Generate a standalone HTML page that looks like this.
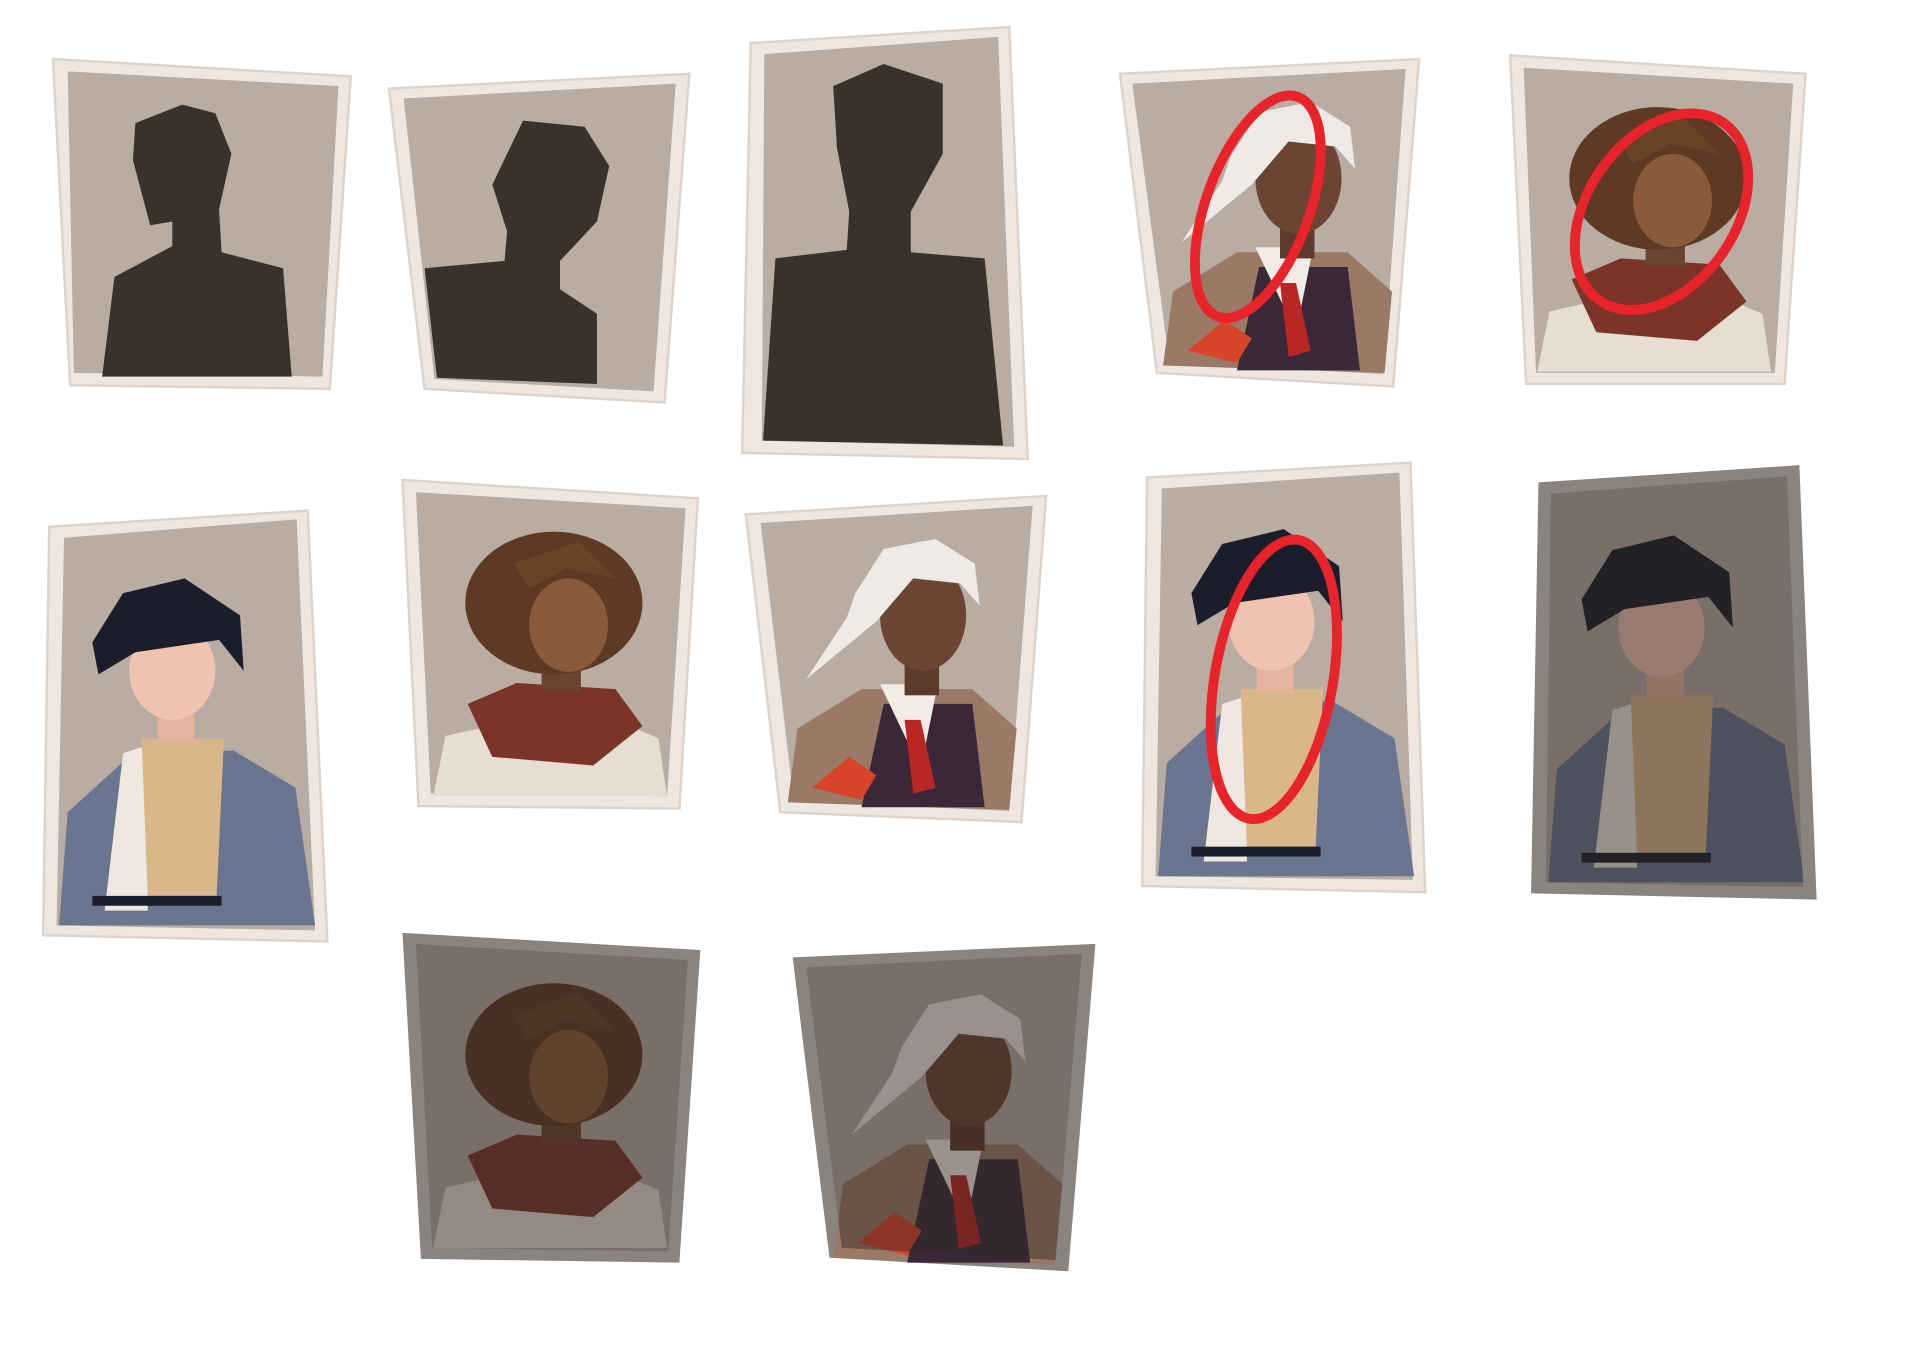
<!DOCTYPE html>
<html><head><meta charset="utf-8"><title>Portrait cards</title>
<style>html,body{margin:0;padding:0;background:#fff;}svg{display:block;}</style></head>
<body>
<svg width="1920" height="1350" viewBox="0 0 1560 1097" preserveAspectRatio="none" xmlns="http://www.w3.org/2000/svg">
<defs>
  <g id="charA">
    <polygon points="640,652 648,592 700,560 790,560 826,592 820,658" fill="#9a7a66"/>
    <polygon points="718,572 790,572 800,656 700,656" fill="#3a2838"/>
    <polygon points="715,556 762,556 748,625" fill="#f1ece6"/>
    <polygon points="735,585 748,585 760,640 742,645" fill="#b82626"/>
    <rect x="735" y="530" width="28" height="35" fill="#5e3a2c"/>
    <ellipse cx="750" cy="500" rx="35" ry="45" fill="#6b4434"/>
    <polygon points="695,482 718,446 760,438 792,458 796,492 780,474 742,470 712,505 655,552 688,502" fill="#eeeae6"/>
    <polygon points="660,640 690,615 712,630 700,650" fill="#d8442a"/>
  </g>
  <g id="charB">
    <polygon points="352,647 362,598 420,585 500,585 535,600 542,647" fill="#e8ddd2"/>
    <polygon points="380,572 420,555 500,560 522,590 482,622 400,615" fill="#7a3428"/>
    <rect x="440" y="530" width="32" height="32" fill="#6a4430"/>
    <ellipse cx="450" cy="490" rx="72" ry="58" fill="#5e3a24"/>
    <ellipse cx="462" cy="508" rx="32" ry="38" fill="#8a5a3a"/>
    <polygon points="418,458 470,440 500,470 460,462 430,478" fill="#6a4228"/>
  </g>
  <g id="charC">
    <polygon points="48,752 55,660 110,610 190,610 240,640 256,752" fill="#6c7590"/>
    <polygon points="100,612 122,605 120,740 85,740" fill="#efe8e0"/>
    <polygon points="115,600 182,600 176,728 120,728" fill="#d9b78a"/>
    <rect x="75" y="728" width="105" height="8" fill="#1b1e2a"/>
    <rect x="128" y="565" width="30" height="38" fill="#e6b39e"/>
    <ellipse cx="140" cy="545" rx="35" ry="40" fill="#efc3b0"/>
    <polygon points="75,522 100,482 150,470 195,500 198,545 178,520 110,530 80,548" fill="#1b1e2a"/>
  </g>
</defs>

<!-- Row 1: silhouettes -->
<g>
  <polygon points="43,48 285,62 268,316 57,313" fill="#eee7e1" stroke="#ddd3cb" stroke-width="2"/>
  <polygon points="55,58 275,70 262,306 60,303" fill="#b8aca3"/>
  <polygon points="110,100 148,85 175,92 188,125 178,170 180,205 230,218 237,306 83,306 93,225 140,200 140,180 122,183 108,130" fill="#3a3129"/>
</g>
<g>
  <polygon points="316,72 560,60 540,327 345,316" fill="#eee7e1" stroke="#ddd3cb" stroke-width="2"/>
  <polygon points="328,80 549,68 531,318 353,308" fill="#b8aca3"/>
  <polygon points="400,150 425,98 475,103 495,135 485,180 455,212 455,235 485,255 485,312 355,307 345,218 410,212 412,188" fill="#3a3129"/>
</g>
<g>
  <polygon points="610,35 820,22 835,373 603,368" fill="#eee7e1" stroke="#ddd3cb" stroke-width="2"/>
  <polygon points="621,44 811,30 824,363 619,358" fill="#b8aca3"/>
  <polygon points="677,70 718,52 766,68 766,125 740,172 740,205 800,210 815,362 620,358 630,210 688,203 690,172 680,120" fill="#3a3129"/>
</g>
<g>
  <polygon points="910,60 1153,48 1132,314 940,303" fill="#eee7e1" stroke="#ddd3cb" stroke-width="2"/>
  <polygon points="920,68 1142,56 1124,304 950,294" fill="#b8aca3"/>
  <use href="#charA" transform="translate(305,-355)"/>
  <ellipse cx="1022" cy="168" rx="42" ry="95" transform="rotate(20 1022 168)" fill="none" stroke="#e8242a" stroke-width="8"/>
</g>
<g>
  <polygon points="1227,45 1467,60 1450,312 1240,312" fill="#eee7e1" stroke="#ddd3cb" stroke-width="2"/>
  <polygon points="1238,55 1457,68 1442,303 1248,303" fill="#b8aca3"/>
  <use href="#charB" transform="translate(897,-345)"/>
  <ellipse cx="1350" cy="172" rx="60" ry="88" transform="rotate(35 1350 172)" fill="none" stroke="#e8242a" stroke-width="8"/>
</g>

<!-- Row 2 -->
<g>
  <polygon points="40,428 250,415 266,765 35,760" fill="#eee7e1" stroke="#ddd3cb" stroke-width="2"/>
  <polygon points="52,437 241,422 256,756 46,752" fill="#b8aca3"/>
  <use href="#charC"/>
</g>
<g>
  <polygon points="327,390 567,405 552,657 340,655" fill="#eee7e1" stroke="#ddd3cb" stroke-width="2"/>
  <polygon points="338,400 557,413 542,647 350,645" fill="#b8aca3"/>
  <use href="#charB"/>
</g>
<g>
  <polygon points="606,418 850,403 830,668 634,660" fill="#eee7e1" stroke="#ddd3cb" stroke-width="2"/>
  <polygon points="618,425 839,411 820,659 645,651" fill="#b8aca3"/>
  <use href="#charA"/>
</g>
<g>
  <polygon points="932,388 1146,376 1158,725 928,720" fill="#eee7e1" stroke="#ddd3cb" stroke-width="2"/>
  <polygon points="944,397 1137,384 1148,715 939,712" fill="#b8aca3"/>
  <use href="#charC" transform="translate(893,-40)"/>
  <ellipse cx="1035" cy="552" rx="48" ry="115" transform="rotate(10 1035 552)" fill="none" stroke="#e8242a" stroke-width="8"/>
</g>
<g>
  <polygon points="1250,392 1462,378 1476,731 1244,726" fill="#8a8481"/>
  <polygon points="1260,401 1452,387 1465,721 1256,717" fill="#b8aca3"/>
  <use href="#charC" transform="translate(1210,-35)"/>
  <polygon points="1260,401 1452,387 1465,721 1256,717" fill="#2e2622" opacity="0.45"/>
</g>

<!-- Row 3 -->
<g>
  <polygon points="327,758 569,772 552,1026 342,1023" fill="#8a8481"/>
  <polygon points="338,767 559,780 543,1017 351,1014" fill="#b8aca3"/>
  <use href="#charB" transform="translate(0,367)"/>
  <polygon points="338,767 559,780 543,1017 351,1014" fill="#2e2622" opacity="0.45"/>
</g>
<g>
  <polygon points="644,778 890,767 868,1033 674,1022" fill="#8a8481"/>
  <polygon points="655,786 879,775 858,1024 684,1014" fill="#b8aca3"/>
  <use href="#charA" transform="translate(37,370)"/>
  <polygon points="655,786 879,775 858,1024 684,1014" fill="#2e2622" opacity="0.45"/>
</g>
</svg>
</body></html>
